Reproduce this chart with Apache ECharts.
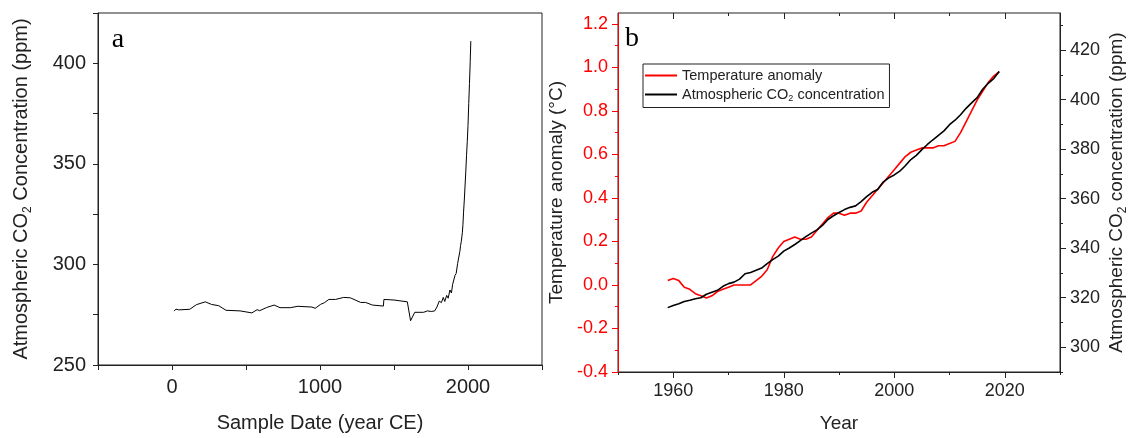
<!DOCTYPE html>
<html><head><meta charset="utf-8">
<script src="https://cdn.jsdelivr.net/npm/echarts@6/dist/echarts.min.js"></script>
<style>html,body{margin:0;padding:0;background:#fff}#c{width:1130px;height:438px}</style>
</head><body><div id="c"></div>
<script>
// ---------- Panel a: CO2 over the Common Era ----------
const yearsA = [14, 27, 45, 120, 165, 225, 268, 315, 365, 460, 540, 575, 592, 640, 690, 730, 800, 850, 945, 968,
  1003, 1030, 1060, 1105, 1160, 1205, 1275, 1308, 1354, 1428, 1432, 1500, 1590, 1612, 1640, 1700, 1726, 1737, 1752, 1775,
  1790, 1806, 1820, 1833, 1843, 1856, 1866, 1878, 1888, 1896, 1903, 1912, 1920, 1930, 1936, 1945, 1950, 1955, 1958, 1962,
  1966, 1970, 1975, 1980, 1985, 1990, 1995, 2000, 2005, 2010, 2015, 2019];
const co2A = [276.8, 277.8, 277.4, 277.7, 280.0, 281.4, 280.1, 279.5, 277.2, 276.9, 275.9, 277.5, 277.0, 278.6, 279.8, 278.5, 278.5, 279.2, 278.8, 278.2,
  280.1, 281.0, 282.6, 282.6, 283.6, 283.4, 281.1, 281.1, 279.8, 279.3, 282.6, 282.3, 281.4, 272.0, 276.2, 276.2, 276.9, 277.8, 276.6, 276.9,
  278.8, 281.8, 281.0, 283.6, 281.6, 284.6, 283.2, 287.3, 285.8, 290.0, 289.2, 294.5, 295.5, 300.5, 300.0, 306.5, 309.5, 311.5, 312.0, 316.0,
  320.0, 326.0, 332.0, 339.0, 346.0, 354.0, 361.0, 369.0, 380.0, 390.0, 401.0, 411.0];
const ticksAx = [-500, 0, 500, 1000, 1500, 2000, 2500];
const labelsAx = [0, 1000, 2000];
const ticksAy = [250, 275, 300, 325, 350, 375, 400, 425];
const labelsAy = [250, 300, 350, 400];

// ---------- Panel b: temperature anomaly and CO2, 1959-2019 ----------
const yearsB = [1959, 1960, 1961, 1962, 1963, 1964, 1965, 1966, 1967, 1968, 1969, 1970, 1971, 1972, 1973, 1974, 1975, 1976, 1977, 1978,
  1979, 1980, 1981, 1982, 1983, 1984, 1985, 1986, 1987, 1988, 1989, 1990, 1991, 1992, 1993, 1994, 1995, 1996, 1997, 1998,
  1999, 2000, 2001, 2002, 2003, 2004, 2005, 2006, 2007, 2008, 2009, 2010, 2011, 2012, 2013, 2014, 2015, 2016, 2017, 2018, 2019];
const tempB = [0.02, 0.03, 0.02, -0.01, -0.02, -0.04, -0.05, -0.06, -0.05, -0.03, -0.02, -0.01, 0.00, 0.00, 0.00, 0.00, 0.02, 0.04, 0.07, 0.13,
  0.17, 0.20, 0.21, 0.22, 0.21, 0.21, 0.22, 0.25, 0.28, 0.31, 0.33, 0.33, 0.32, 0.33, 0.33, 0.34, 0.38, 0.41, 0.44, 0.47,
  0.50, 0.53, 0.56, 0.59, 0.61, 0.62, 0.63, 0.63, 0.63, 0.64, 0.64, 0.65, 0.66, 0.70, 0.75, 0.80, 0.85, 0.89, 0.93, 0.96, 0.98];
const co2B = [316.0, 316.9, 317.6, 318.5, 319.0, 319.6, 320.0, 321.4, 322.2, 323.0, 324.6, 325.7, 326.3, 327.5, 329.7, 330.2, 331.1, 332.0, 333.8, 335.4,
  336.8, 338.8, 340.1, 341.5, 343.1, 344.7, 346.1, 347.4, 349.2, 351.6, 353.1, 354.4, 355.6, 356.5, 357.1, 358.8, 360.8, 362.6, 363.7, 366.7,
  368.4, 369.6, 371.1, 373.3, 375.8, 377.5, 379.8, 381.9, 383.8, 385.6, 387.4, 389.9, 391.7, 393.9, 396.5, 398.7, 400.8, 404.2, 406.6, 408.5, 411.4];
const majorBx = [1960, 1980, 2000, 2020];
const minorBx = [1950, 1970, 1990, 2010, 2030];
const majorBt = [-0.4, -0.2, 0.0, 0.2, 0.4, 0.6, 0.8, 1.0, 1.2];
const minorBt = [-0.3, -0.1, 0.1, 0.3, 0.5, 0.7, 0.9, 1.1];
const majorBc = [300, 320, 340, 360, 380, 400, 420];
const minorBc = [290, 310, 330, 350, 370, 390, 410, 430];

const FONT = 'Liberation Sans, Arial, sans-serif';
const INK = '#222';
const RED = '#ff0000';

function pairs(xs, ys) { return xs.map((x, i) => [x, ys[i]]); }
const plain = v => String(Math.round(v));

function richName(fs) {
  return {
    fontFamily: FONT, color: INK, fontSize: fs,
    rich: {
      n: { fontFamily: FONT, fontSize: fs, color: INK, lineHeight: fs + 6 },
      s: { fontFamily: FONT, fontSize: Math.round(fs * 0.62), color: INK, lineHeight: fs + 6, verticalAlign: 'bottom' }
    }
  };
}

function blankAxis(extra) {
  return Object.assign({
    type: 'value', axisLine: { show: false, onZero: false }, axisLabel: { show: false },
    splitLine: { show: false }
  }, extra);
}

const chart = echarts.init(document.getElementById('c'), null, { renderer: 'canvas' });
chart.setOption({
  animation: false,
  backgroundColor: '#fff',
  grid: [
    { left: 98, right: 588, top: 13, bottom: 67, show: true, borderColor: INK, borderWidth: 1, containLabel: false },
    { left: 618, right: 68, top: 13, bottom: 60, show: true, borderColor: INK, borderWidth: 1, containLabel: false }
  ],
  legend: {
    left: 643, top: 64, orient: 'vertical',
    borderColor: INK, borderWidth: 1, padding: [4, 5, 4, 2], itemGap: 4,
    itemWidth: 32, itemHeight: 2, icon: 'rect',
    data: ['Temperature anomaly', 'Atmospheric CO2 concentration'],
    formatter: function (name) {
      return name === 'Atmospheric CO2 concentration'
        ? '{n|Atmospheric CO}{s|2}{n| concentration}' : '{n|' + name + '}';
    },
    textStyle: {
      fontFamily: FONT, fontSize: 14.5, color: INK,
      rich: {
        n: { fontFamily: FONT, fontSize: 14.5, color: INK, lineHeight: 18 },
        s: { fontFamily: FONT, fontSize: 9, color: INK, lineHeight: 18, verticalAlign: 'bottom' }
      }
    }
  },
  xAxis: [
    { gridIndex: 0, type: 'value', min: -500, max: 2500, position: 'bottom',
      axisLine: { onZero: false, lineStyle: { color: INK, width: 1 } },
      axisTick: { customValues: ticksAx, length: 5, lineStyle: { color: INK } },
      axisLabel: { customValues: labelsAx, margin: 12, fontSize: 20, fontFamily: FONT, color: INK, formatter: plain },
      splitLine: { show: false },
      name: 'Sample Date (year CE)', nameLocation: 'middle', nameGap: 48,
      nameTextStyle: { fontSize: 20, fontFamily: FONT, color: INK } },
    { gridIndex: 1, type: 'value', min: 1950, max: 2030, position: 'bottom',
      axisLine: { onZero: false, lineStyle: { color: INK, width: 1 } },
      axisTick: { customValues: majorBx, length: 6, lineStyle: { color: INK } },
      axisLabel: { customValues: majorBx, margin: 10, fontSize: 18, fontFamily: FONT, color: INK, formatter: plain },
      splitLine: { show: false },
      name: 'Year', nameLocation: 'middle', nameGap: 42,
      nameTextStyle: { fontSize: 19, fontFamily: FONT, color: INK } },
    blankAxis({ gridIndex: 1, min: 1950, max: 2030, position: 'bottom',
      axisTick: { customValues: minorBx, length: 3, lineStyle: { color: INK } } }),
    blankAxis({ gridIndex: 1, min: 1950, max: 2030, position: 'top',
      axisTick: { customValues: majorBx, inside: true, length: 6, lineStyle: { color: INK } } }),
    blankAxis({ gridIndex: 1, min: 1950, max: 2030, position: 'top',
      axisTick: { customValues: minorBx, inside: true, length: 3, lineStyle: { color: INK } } })
  ],
  yAxis: [
    { gridIndex: 0, type: 'value', min: 250, max: 425, position: 'left',
      axisLine: { show: true, onZero: false, lineStyle: { color: INK, width: 1 } },
      axisTick: { show: true, customValues: ticksAy, length: 5, lineStyle: { color: INK } },
      axisLabel: { customValues: labelsAy, margin: 12, fontSize: 20, fontFamily: FONT, color: INK, formatter: plain },
      splitLine: { show: false },
      name: '{n|Atmospheric CO}{s|2}{n| Concentration (ppm)}', nameLocation: 'middle', nameRotate: 90, nameGap: 64,
      nameTextStyle: richName(20) },
    { gridIndex: 1, type: 'value', min: -0.4, max: 1.25, position: 'left', z: 5,
      axisLine: { show: true, onZero: false, lineStyle: { color: RED, width: 1 } },
      axisTick: { show: true, customValues: majorBt, length: 6, lineStyle: { color: RED } },
      axisLabel: { customValues: majorBt, margin: 10, fontSize: 18, fontFamily: FONT, color: RED,
        formatter: v => v.toFixed(1) },
      splitLine: { show: false },
      name: 'Temperature anomaly (°C)', nameLocation: 'middle', nameRotate: 90, nameGap: 52,
      nameTextStyle: { fontSize: 19, fontFamily: FONT, color: INK } },
    { gridIndex: 1, type: 'value', min: 290, max: 435, position: 'right',
      axisLine: { show: true, onZero: false, lineStyle: { color: INK, width: 1 } },
      axisTick: { show: true, customValues: majorBc, length: 6, lineStyle: { color: INK } },
      axisLabel: { customValues: majorBc, margin: 10, fontSize: 18, fontFamily: FONT, color: INK, formatter: plain },
      splitLine: { show: false },
      name: '{n|Atmospheric CO}{s|2}{n| concentration (ppm)}', nameLocation: 'middle', nameRotate: 90, nameGap: 44,
      nameTextStyle: richName(19) },
    blankAxis({ gridIndex: 1, min: -0.4, max: 1.25, position: 'left', z: 5,
      axisTick: { show: true, customValues: minorBt, length: 3, lineStyle: { color: RED } } }),
    blankAxis({ gridIndex: 1, min: 290, max: 435, position: 'right',
      axisTick: { show: true, customValues: minorBc, length: 3, lineStyle: { color: INK } } })
  ],
  graphic: [
    { type: 'text', x: 118, y: 40, z: 10,
      style: { text: 'a', fontFamily: 'Liberation Serif, Times New Roman, serif', fontSize: 28, fill: '#000',
        textAlign: 'center', textVerticalAlign: 'middle' } },
    { type: 'text', x: 632, y: 39, z: 10,
      style: { text: 'b', fontFamily: 'Liberation Serif, Times New Roman, serif', fontSize: 28, fill: '#000',
        textAlign: 'center', textVerticalAlign: 'middle' } }
  ],
  series: [
    { type: 'line', name: 'Sample CO2', xAxisIndex: 0, yAxisIndex: 0, symbol: 'none',
      lineStyle: { color: '#000', width: 1 }, data: pairs(yearsA, co2A) },
    { type: 'line', name: 'Temperature anomaly', xAxisIndex: 1, yAxisIndex: 1, symbol: 'none',
      itemStyle: { color: RED }, lineStyle: { color: RED, width: 1.6 }, data: pairs(yearsB, tempB), z: 3 },
    { type: 'line', name: 'Atmospheric CO2 concentration', xAxisIndex: 1, yAxisIndex: 2, symbol: 'none',
      itemStyle: { color: '#000' }, lineStyle: { color: '#000', width: 1.6 }, data: pairs(yearsB, co2B), z: 4 }
  ]
});
</script>
</body></html>
